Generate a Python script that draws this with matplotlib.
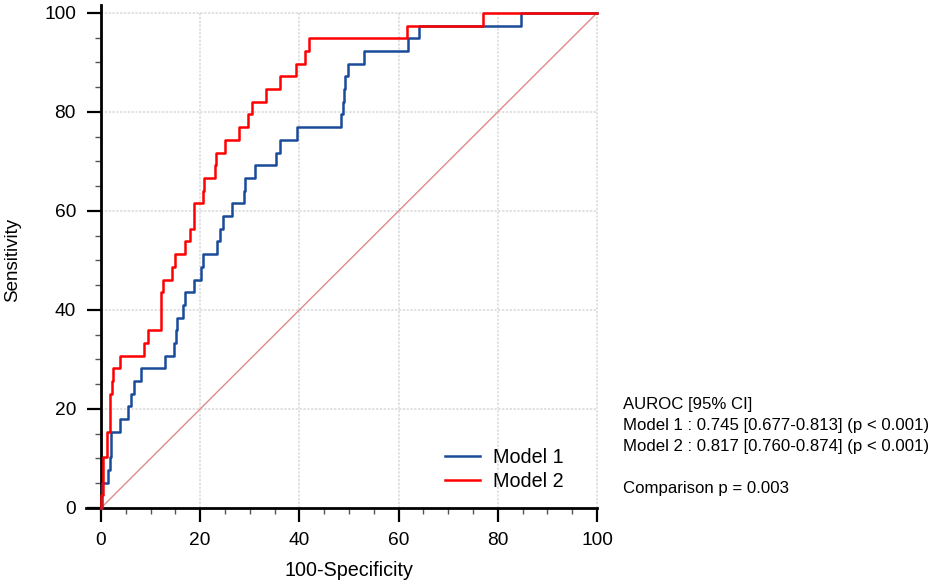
import matplotlib
matplotlib.use("Agg")
import matplotlib.pyplot as plt
from matplotlib.ticker import MultipleLocator

plt.rcParams['font.family'] = ['Liberation Sans', 'DejaVu Sans']

# ROC operating points (100-Specificity, Sensitivity)
fpr_model1 = [0, 0.2, 1.5, 1.8, 2.05, 3.9, 5.5, 6.05, 6.7, 8.06,
              12.9, 14.8, 15.05, 15.3, 16.5, 16.9, 18.75, 20.2, 20.6, 23.3,
              24.0, 24.7, 26.5, 28.8, 29.0, 31.1, 35.3, 36.0, 39.45, 48.45,
              48.7, 48.9, 49.25, 49.9, 53.1, 61.95, 64.2, 84.6, 100]
tpr_model1 = [0, 5.13, 7.69, 10.26, 15.38, 17.95, 20.51, 23.08, 25.64, 28.21,
              30.77, 33.33, 35.90, 38.46, 41.03, 43.59, 46.15, 48.72, 51.28, 53.85,
              56.41, 58.97, 61.54, 64.10, 66.67, 69.23, 71.79, 74.36, 76.92, 79.49,
              82.05, 84.62, 87.18, 89.74, 92.31, 94.87, 97.44, 100, 100]

fpr_model2 = [0, 0, 0.4, 1.2, 1.75, 2.3, 2.5, 3.9, 8.7, 9.4,
              12.0, 12.2, 12.6, 14.25, 14.9, 16.9, 17.9, 18.75, 20.6, 20.8,
              22.9, 23.2, 25.1, 27.8, 29.7, 30.4, 33.2, 36.0, 39.25, 41.2,
              42.0, 61.75, 77.1, 100]
tpr_model2 = [0, 2.56, 10.26, 15.38, 23.08, 25.64, 28.21, 30.77, 33.33, 35.90,
              41.03, 43.59, 46.15, 48.72, 51.28, 53.85, 56.41, 61.54, 64.10, 66.67,
              69.23, 71.79, 74.36, 76.92, 79.49, 82.05, 84.62, 87.18, 89.74, 92.31,
              94.87, 97.44, 100, 100]

series_labels = ["Model 1", "Model 2"]
ticks = [0, 20, 40, 60, 80, 100]
annotation_lines = ["AUROC [95% CI]",
                    "Model 1 : 0.745 [0.677-0.813] (p < 0.001)",
                    "Model 2 : 0.817 [0.760-0.874] (p < 0.001)",
                    "",
                    "Comparison p = 0.003"]

W, H = 935, 586
fig = plt.figure(figsize=(W / 100, H / 100), dpi=100)
left_px, right_px, bottom_px, top_px = 86.1, 597.0, 508.0, 5.0
ax = fig.add_axes([left_px / W, 1 - bottom_px / H,
                   (right_px - left_px) / W, (bottom_px - top_px) / H])
ax.set_xlim(-3, 100)
ax.set_ylim(0, 101.6)

# grid
for t in ticks[1:]:
    ax.plot([t, t], [0, 100], color='#d9d9d9', lw=1.1, ls=(0, (1.5, 1)),
            zorder=0, clip_on=False)
    ax.plot([0, 100], [t, t], color='#d9d9d9', lw=1.1, ls=(0, (1.5, 1)),
            zorder=0, clip_on=False)

# diagonal
ax.plot([0, 100], [0, 100], color='#e08a8a', lw=1.0, zorder=1)

ax.plot(fpr_model1, tpr_model1, drawstyle='steps-post', color='#1a4a9a',
        lw=1.8, label=series_labels[0], zorder=3, clip_on=False)
ax.plot(fpr_model2, tpr_model2, drawstyle='steps-post', color='#ff0000',
        lw=1.8, label=series_labels[1], zorder=4, clip_on=False)

for s in ['top', 'right']:
    ax.spines[s].set_visible(False)
ax.spines['left'].set_position(('data', 0))
ax.spines['bottom'].set_position(('data', 0))
ax.spines['left'].set_linewidth(2.0)
ax.spines['bottom'].set_linewidth(2.0)
ax.spines['left'].set_bounds(0, 101.6)
ax.spines['bottom'].set_bounds(-3, 100)

ax.set_xticks(ticks)
ax.set_yticks(ticks)
ax.xaxis.set_minor_locator(MultipleLocator(5))
ax.yaxis.set_minor_locator(MultipleLocator(5))
ax.tick_params(which='major', direction='out', length=10, width=1.6,
               labelsize=13.8, colors='black')
ax.tick_params(axis='x', which='major', pad=7.5)
ax.tick_params(axis='y', which='major', pad=8)
ax.tick_params(which='minor', direction='out', length=4.5, width=1.0,
               color='#555555')

ax.set_xlabel("100-Specificity", fontsize=14.2)
ax.set_ylabel("Sensitivity", fontsize=13.5)
ax.xaxis.set_label_coords((348.7 - left_px) / (right_px - left_px), -(570 - bottom_px) / (bottom_px - top_px))
ax.yaxis.set_label_coords(-(left_px - 13) / (right_px - left_px), (bottom_px - 260) / (bottom_px - top_px))
ax.xaxis.label.set_va('center')
ax.yaxis.label.set_va('center')

leg = ax.legend(loc='upper left', frameon=False, fontsize=14.2,
                bbox_to_anchor=((445 - left_px) / (right_px - left_px), (bottom_px - 448) / (bottom_px - top_px)),
                handlelength=1.75, handletextpad=0.66, labelspacing=0.25,
                borderaxespad=0, borderpad=0)

y0 = 405
for i, line in enumerate(annotation_lines):
    fig.text(622.7 / W, 1 - (y0 + 20.5 * i + (2 if i == 4 else 0)) / H, line,
             fontsize=12.1, ha='left', va='center')

fig.savefig("out.png", dpi=100)
